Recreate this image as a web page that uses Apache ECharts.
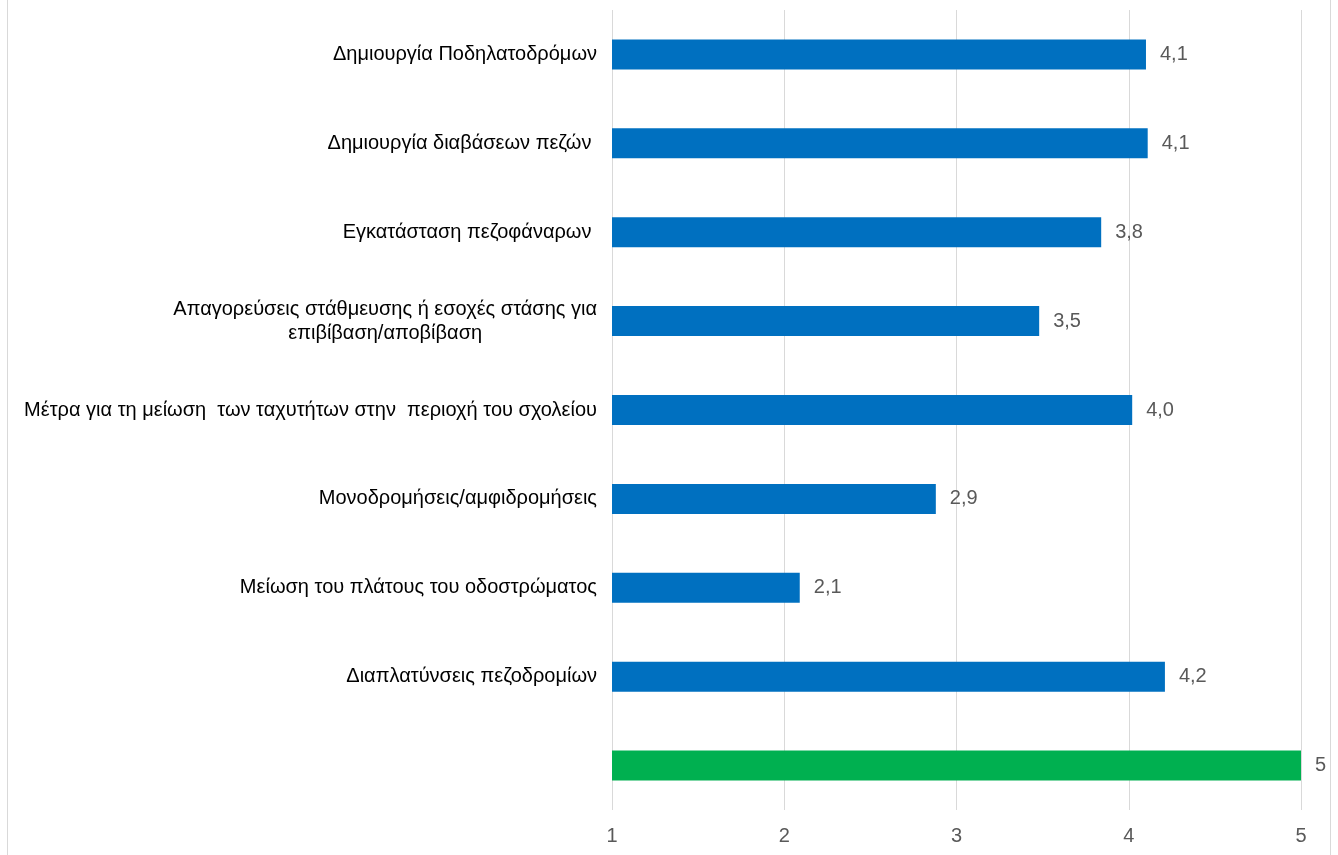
<!DOCTYPE html>
<html>
<head>
<meta charset="utf-8">
<script src="https://cdn.jsdelivr.net/npm/echarts@6/dist/echarts.min.js"></script>
<style>
	html, body { margin: 0; padding: 0; background: #fff; }
	#frame {
		position: absolute; left: 7px; top: 0; width: 1322px; height: 855px;
		border-left: 1px solid #d9d9d9; border-right: 1px solid #d9d9d9;
	}
	#chart { position: absolute; left: 0; top: 0; width: 1338px; height: 855px; }
</style>
</head>
<body>
<div id="frame"></div>
<div id="chart"></div>
<script>
	// top to bottom, as in the picture
	const categories = [
		"Δημιουργία Ποδηλατοδρόμων",
		"Δημιουργία διαβάσεων πεζών ",
		"Εγκατάσταση πεζοφάναρων ",
		"Απαγορεύσεις στάθμευσης ή εσοχές στάσης για\nεπιβίβαση/αποβίβαση",
		"Μέτρα για τη μείωση  των ταχυτήτων στην  περιοχή του σχολείου",
		"Μονοδρομήσεις/αμφιδρομήσεις",
		"Μείωση του πλάτους του οδοστρώματος",
		"Διαπλατύνσεις πεζοδρομίων",
		""
	];
	const values = [4.1, 4.11, 3.84, 3.48, 4.02, 2.88, 2.09, 4.21, 5];
	const barColors = ["#0070C0", "#0070C0", "#0070C0", "#0070C0", "#0070C0", "#0070C0", "#0070C0", "#0070C0", "#00B050"];
	const xTicks = [1, 2, 3, 4, 5];

	const chart = echarts.init(document.getElementById("chart"));

	const fmt = (v) => Number.isInteger(v) ? String(v) : v.toFixed(1).replace(".", ",");

	const option = {
		animation: false,
		grid: { left: 612, right: 37, top: 10, bottom: 45 },
		xAxis: {
			type: "value",
			min: xTicks[0],
			max: xTicks[xTicks.length - 1],
			interval: 1,
			axisLine: { show: false },
			axisTick: { show: false },
			splitLine: { show: true, lineStyle: { color: "#d9d9d9", width: 1 } },
			axisLabel: {
				color: "#595959",
				fontFamily: "Liberation Sans",
				fontSize: 20,
				margin: 16
			}
		},
		yAxis: {
			type: "category",
			inverse: true,
			data: categories,
			axisLine: { show: false },
			axisTick: { show: false },
			axisLabel: {
				margin: 15,
				color: "#000",
				fontFamily: "Liberation Sans",
				fontSize: 20,
				formatter: (v) => v.split("\n").map((l) => "{c|" + l + "}").join("\n"),
				rich: {
					c: {
						align: "center",
						color: "#000",
						fontFamily: "Liberation Sans",
						fontSize: 20,
						lineHeight: 24
					}
				}
			}
		},
		series: [
			{
				type: "bar",
				barWidth: 30,
				data: values.map((v, i) => ({ value: v, itemStyle: { color: barColors[i] } })),
				label: {
					show: true,
					position: "right",
					distance: 14,
					color: "#595959",
					fontFamily: "Liberation Sans",
					fontSize: 20,
					formatter: (p) => fmt(p.value)
				}
			}
		]
	};
	chart.setOption(option);
</script>
</body>
</html>
